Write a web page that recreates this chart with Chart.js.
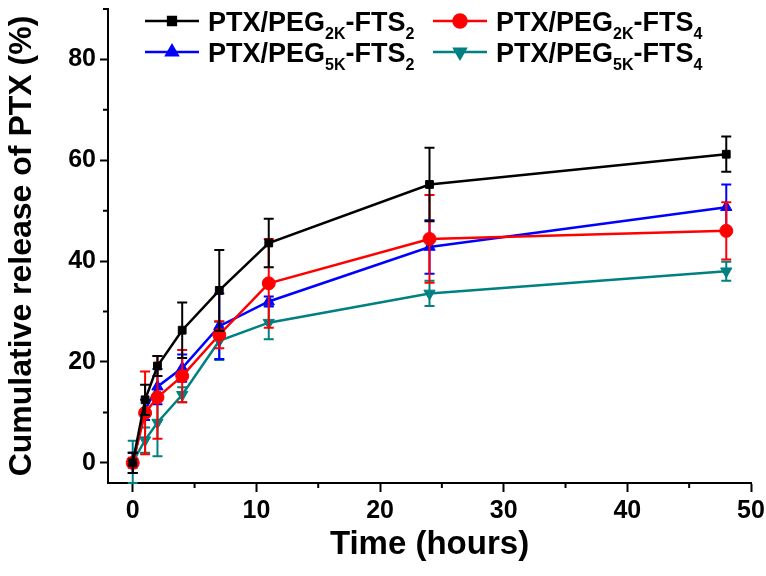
<!DOCTYPE html>
<html><head><meta charset="utf-8">
<script src="https://cdn.jsdelivr.net/npm/chart.js@4/dist/chart.umd.min.js"></script>
<style>html,body{margin:0;padding:0;background:#fff;}#wrap{width:766px;height:576px;position:relative;}</style>
</head><body><div id="wrap"><canvas id="c" width="766" height="576"></canvas></div>
<script>
// ---- data ----
const timeHours = [0, 1, 2, 4, 7, 11, 24, 48];
const peg2kFts2 = [0, 12.5, 19.2, 26.3, 34.2, 43.6, 55.2, 61.2];
const peg2kFts2Err = [2, 3, 2, 5.5, 8, 4.8, 7.3, 3.5];
const peg2kFts4 = [0, 9.9, 13.0, 17.2, 25.4, 35.6, 44.4, 46.0];
const peg2kFts4Err = [1, 8.2, 8.2, 5.2, 2.7, 8.8, 8.7, 5.7];
const peg5kFts2 = [0, 10.5, 15.1, 18.8, 27.1, 32.0, 42.8, 50.7];
const peg5kFts2Err = [2, 2, 3.5, 2.7, 6.5, 1, 5.3, 4.5];
const peg5kFts4 = [0.2, 4.5, 8.0, 13.5, 24.2, 27.8, 33.6, 38.0];
const peg5kFts4Err = [4.2, 2.5, 6.7, 1.5, 3.8, 3.3, 2.5, 1.9];
const legendParts = [
  ['PTX/PEG', '2K', '-FTS', '2'],
  ['PTX/PEG', '2K', '-FTS', '4'],
  ['PTX/PEG', '5K', '-FTS', '2'],
  ['PTX/PEG', '5K', '-FTS', '4']
];
const xTicks = [0, 10, 20, 30, 40, 50];
const xMinorTicks = [5, 15, 25, 35, 45];
const yTicks = [0, 20, 40, 60, 80];
const yMinorTicks = [10, 30, 50, 70, 90];
const xTitle = 'Time (hours)';
const yTitle = 'Cumulative release of PTX (%)';

// ---- styles ----
const FONT = "'Liberation Sans', Arial, sans-serif";
const colors = ['#000000', '#ff0000', '#0000ff', '#008080'];
const shapes = ['rect', 'circle', 'triangle', 'triangle'];
const rotations = [0, 0, 0, 180];
const values = [peg2kFts2, peg2kFts4, peg5kFts2, peg5kFts4];
const errors = [peg2kFts2Err, peg2kFts4Err, peg5kFts2Err, peg5kFts4Err];

const datasets = values.map((vals, i) => ({
  label: legendParts[i].join(''),
  data: timeHours.map((t, k) => ({x: t, y: vals[k]})),
  borderColor: colors[i],
  backgroundColor: colors[i],
  borderWidth: 2.5,
  pointStyle: shapes[i],
  pointRotation: rotations[i],
  pointRadius: i === 0 ? 5.5 : 6.5,
  pointBorderWidth: 1,
  tension: 0,
  clip: false,
  errs: errors[i]
}));

function drawRich(ctx, x, y, parts, size) {
  let cx = x;
  parts.forEach((p, k) => {
    const sub = k % 2 === 1;
    ctx.font = 'bold ' + (sub ? Math.round(size * 0.6) : size) + 'px ' + FONT;
    ctx.textBaseline = 'alphabetic';
    ctx.fillText(p, cx, y + (sub ? size * 0.3 : 0));
    cx += ctx.measureText(p).width;
  });
}

const extras = {
  id: 'extras',
  afterDatasetDraw(chart, args) {
    const ctx = chart.ctx;
    const ds = chart.data.datasets[args.index];
    const xs = chart.scales.x, ys = chart.scales.y;
    ctx.save();
    ctx.strokeStyle = ds.borderColor;
    ctx.lineWidth = 2;
    ds.data.forEach((p, k) => {
      const e = ds.errs[k];
      const px = xs.getPixelForValue(p.x);
      const top = ys.getPixelForValue(p.y + e);
      const bot = ys.getPixelForValue(p.y - e);
      ctx.beginPath();
      ctx.moveTo(px, top); ctx.lineTo(px, bot);
      ctx.moveTo(px - 5, top); ctx.lineTo(px + 5, top);
      ctx.moveTo(px - 5, bot); ctx.lineTo(px + 5, bot);
      ctx.stroke();
    });
    ctx.restore();
  },
  afterDraw(chart) {
    const ctx = chart.ctx;
    const xs = chart.scales.x, ys = chart.scales.y;
    const a = chart.chartArea;
    ctx.save();
    ctx.strokeStyle = '#000';
    ctx.lineWidth = 2;
    ctx.beginPath();
    xMinorTicks.forEach(v => {
      const px = xs.getPixelForValue(v);
      ctx.moveTo(px, a.bottom); ctx.lineTo(px, a.bottom + 5);
    });
    yMinorTicks.forEach(v => {
      const py = ys.getPixelForValue(v);
      ctx.moveTo(a.left - 5, py); ctx.lineTo(a.left, py);
    });
    ctx.stroke();
    // legend
    const cols = [145, 433];
    const rows = [21, 52];
    chart.data.datasets.forEach((ds, i) => {
      const lx = cols[i % 2], ly = rows[Math.floor(i / 2)];
      ctx.strokeStyle = ds.borderColor;
      ctx.lineWidth = 2.5;
      ctx.beginPath();
      ctx.moveTo(lx, ly); ctx.lineTo(lx + 54, ly);
      ctx.stroke();
      ctx.fillStyle = ds.backgroundColor;
      Chart.helpers.drawPoint(ctx, {pointStyle: ds.pointStyle, rotation: ds.pointRotation, radius: ds.pointRadius, borderWidth: 1}, lx + 27, ly);
      ctx.fillStyle = '#000';
      drawRich(ctx, lx + 63, ly + 10, legendParts[i], 27);
    });
    ctx.restore();
  }
};

new Chart(document.getElementById('c'), {
  type: 'line',
  data: {datasets},
  options: {
    responsive: false,
    animation: false,
    layout: {padding: {top: 9, right: 15, left: 0, bottom: 0}},
    plugins: {legend: {display: false}, tooltip: {enabled: false}},
    scales: {
      x: {
        type: 'linear', min: -2, max: 50,
        afterBuildTicks: s => { s.ticks = xTicks.map(v => ({value: v})); },
        afterFit: s => { s.height = 93; s.paddingLeft = 0; s.paddingRight = 0; },
        grid: {drawOnChartArea: false, drawTicks: true, tickLength: 9, tickWidth: 2, tickColor: '#000'},
        border: {display: true, color: '#000', width: 2},
        ticks: {color: '#000', padding: 4, maxRotation: 0, font: {family: FONT, size: 25, weight: 'bold'}},
        title: {display: true, text: xTitle, color: '#000', font: {family: FONT, size: 33, weight: 'bold'}, padding: {top: 0, bottom: 11}}
      },
      y: {
        type: 'linear', min: -4, max: 90,
        afterBuildTicks: s => { s.ticks = yTicks.map(v => ({value: v})); },
        afterFit: s => { s.width = 108; s.paddingTop = 0; s.paddingBottom = 0; },
        grid: {drawOnChartArea: false, drawTicks: true, tickLength: 8, tickWidth: 2, tickColor: '#000'},
        border: {display: true, color: '#000', width: 2},
        ticks: {color: '#000', padding: 4, font: {family: FONT, size: 25, weight: 'bold'}},
        title: {display: true, text: yTitle, color: '#000', font: {family: FONT, size: 32, weight: 'bold'}, padding: {top: 3, bottom: 0}}
      }
    }
  },
  plugins: [extras]
});
</script>
</body></html>
